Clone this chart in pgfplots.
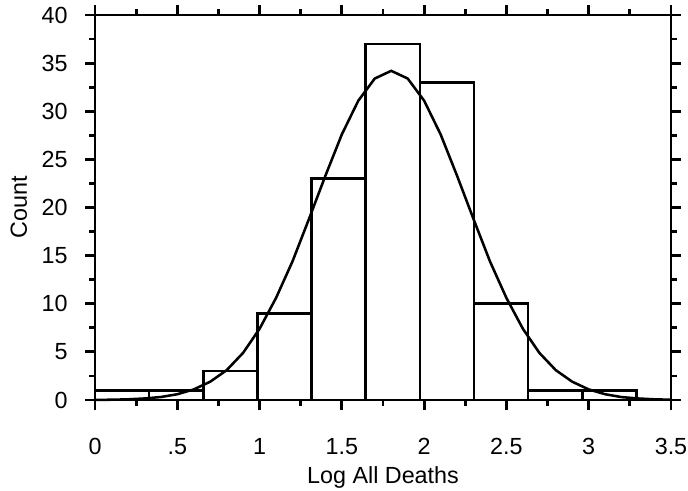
\documentclass[border=0pt]{standalone}
\usepackage{fontspec}
\setmainfont{Liberation Sans}
\usepackage{pgfplots}
\pgfplotsset{compat=1.18}
\begin{document}
\fontsize{17.5}{20}\selectfont
\begin{tikzpicture}
\useasboundingbox (-71.25pt,-67.5pt) rectangle (444.75pt,300pt);
\begin{axis}[
  at={(0pt,0pt)}, anchor=south west,
  scale only axis, width=432pt, height=288.75pt,
  xmin=0, xmax=3.5, ymin=0, ymax=40,
  xtick={0,0.5,1,1.5,2,2.5,3,3.5},
  xticklabels={0,.5,1,1.5,2,2.5,3,3.5},
  minor xtick={0.25,0.75,1.25,1.75,2.25,2.75,3.25},
  ytick={0,5,10,15,20,25,30,35,40},
  minor ytick={2.5,7.5,12.5,17.5,22.5,27.5,32.5,37.5},
  tick align=outside, tick pos=both, ticklabel pos=left,
  major tick length=7.5pt, minor tick length=4.2pt,
  axis line style={line width=2.1pt},
  major tick style={line width=2.1pt, black},
  minor tick style={line width=2.1pt, black},
  xticklabel style={yshift=-15pt},
  yticklabel style={xshift=-7pt},
  /pgf/number format/assume math mode=true,
  xlabel={Log All Deaths}, ylabel={Count},
  xlabel style={at={(axis description cs:0.5,-0.2)}, anchor=center},
  ylabel style={at={(axis description cs:-0.132,0.5)}, anchor=center},
  clip=false,
]
\addplot[ybar interval, draw=black, fill=white, line width=1.9pt]
  coordinates {(0,1)(0.329,1)(0.658,3)(0.987,9)(1.316,23)(1.645,37)
               (1.974,33)(2.303,10)(2.632,1)(2.961,1)(3.29,1)};
\addplot[black, line width=1.9pt, no marks] coordinates {
  (0,0.01)(0.1,0.03)(0.2,0.07)(0.3,0.16)(0.4,0.31)(0.5,0.6)(0.6,1.1)
  (0.7,1.9)(0.8,3.1)(0.9,4.9)(1.0,7.4)(1.1,10.6)(1.2,14.4)(1.3,18.8)
  (1.4,23.3)(1.5,27.6)(1.6,31.1)(1.7,33.4)(1.8,34.2)(1.9,33.4)(2.0,31.1)
  (2.1,27.6)(2.2,23.3)(2.3,18.8)(2.4,14.4)(2.5,10.6)(2.6,7.4)(2.7,4.9)
  (2.8,3.1)(2.9,1.9)(3.0,1.1)(3.1,0.6)(3.2,0.3)(3.3,0.16)(3.4,0.07)(3.5,0.03)};
\end{axis}
\end{tikzpicture}
\end{document}
